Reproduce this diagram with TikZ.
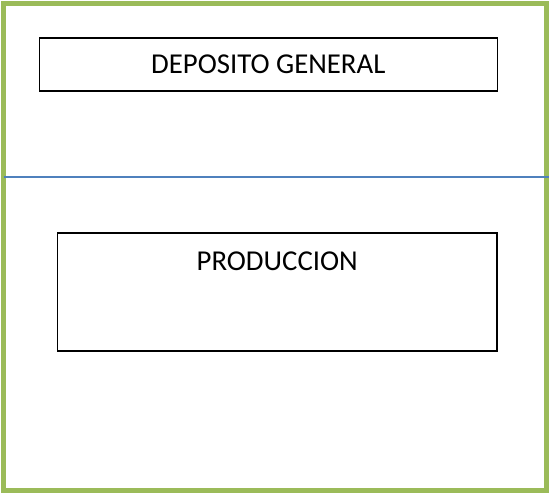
\documentclass[tikz,border=0pt]{standalone}
\usepackage{fontspec}
\setmainfont{Carlito}
\usepackage{tikz}
\usepackage{xcolor}
\definecolor{framecolor}{RGB}{155,187,89}
\definecolor{linecolor}{RGB}{79,129,189}

\begin{document}
\begin{tikzpicture}[x=1pt, y=-1pt,
  area/.style={draw=black, line width=1.5pt, rectangle, inner sep=0pt},
  rotulo/.style={font=\fontsize{28.8}{34}\selectfont, inner sep=0pt}]
\useasboundingbox (0,0) rectangle (549,493);

% Outer frame
\draw[framecolor, line width=5pt] (3.6,3.6) rectangle (546,490.6);

% Dividing line
\draw[linecolor, line width=2pt] (4,176.7) -- (549,176.7);

% Areas
\node[area, minimum width=458pt, minimum height=53pt] (deposito) at (268.3,64.5) {};
\node[rotulo] (deposito label) at (deposito.center) {DEPOSITO GENERAL};

\node[area, minimum width=439.7pt, minimum height=118pt] (produccion) at (277.2,291.8) {};
\node[rotulo] (produccion label) at ([yshift=-29pt]produccion.north) {PRODUCCION};

\end{tikzpicture}
\end{document}
